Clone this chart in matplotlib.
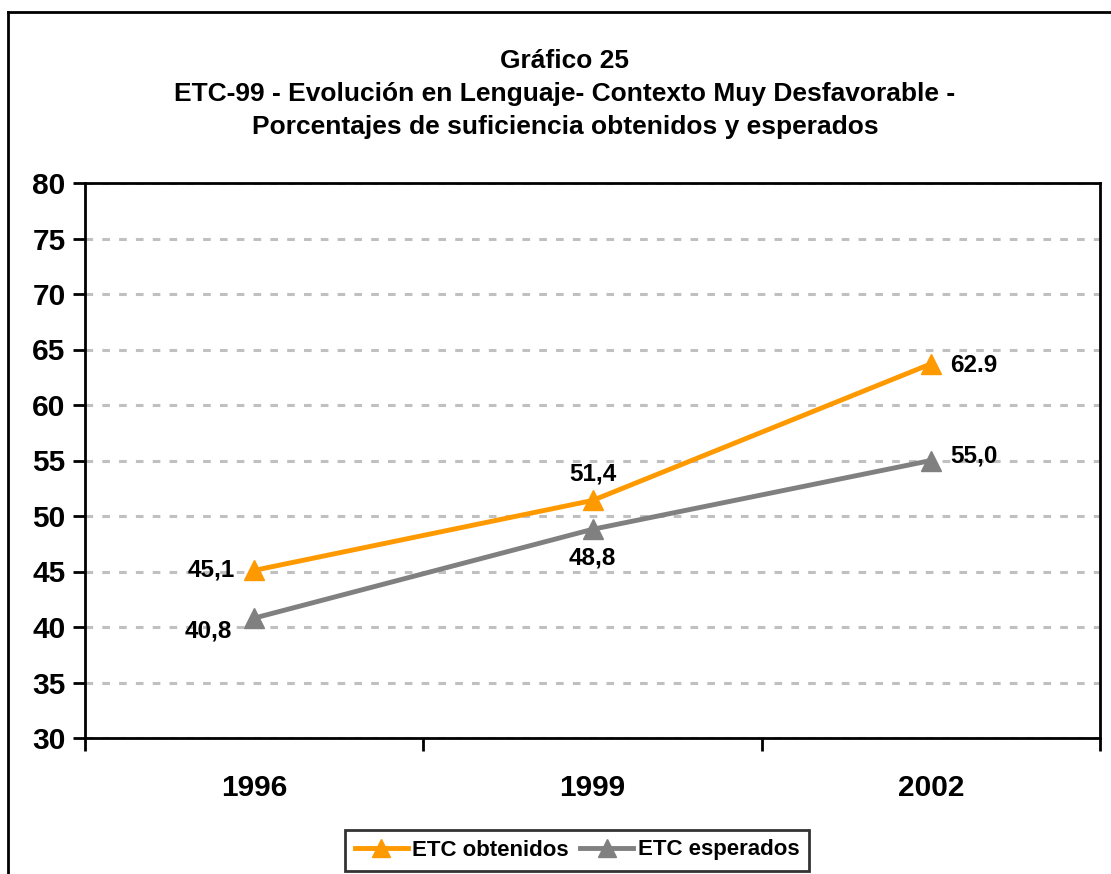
import matplotlib
matplotlib.use('Agg')
import matplotlib.pyplot as plt
from matplotlib.lines import Line2D

plt.rcParams['font.family'] = ['Liberation Sans', 'DejaVu Sans']

years = ['1996', '1999', '2002']
obtenidos = [45.1, 51.4, 63.7]
esperados = [40.8, 48.8, 55.0]
obtenidos_labels = ['45,1', '51,4', '62.9']
esperados_labels = ['40,8', '48,8', '55,0']

ORANGE = '#FF9900'; GRAY = '#808080'
TITLE = 'Gráfico 25\nETC-99 - Evolución en Lenguaje- Contexto Muy Desfavorable -\nPorcentajes de suficiencia obtenidos y esperados'

fig = plt.figure(figsize=(11.11, 8.74), dpi=100)
ax = fig.add_axes([85/1111, 1 - 738/874, (1100 - 85)/1111, (738 - 183)/874])

x = list(range(len(years)))
ax.plot(x, obtenidos, color=ORANGE, lw=3.5, marker='^', ms=15, label='ETC obtenidos', zorder=3)
ax.plot(x, esperados, color=GRAY, lw=3.5, marker='^', ms=15, label='ETC esperados', zorder=3)

ax.set_xlim(-0.5, 2.5)
ax.set_ylim(30, 80)
ax.set_yticks(range(30, 81, 5))
ax.set_xticks(x)
ax.set_xticklabels(years)
ax.set_xticks([-0.5, 0.5, 1.5, 2.5], minor=True)
ax.tick_params(axis='x', which='major', length=0, pad=26, labelsize=21.5)
ax.tick_params(axis='x', which='minor', length=9, width=2, direction='out')
ax.tick_params(axis='y', length=9, width=2, direction='out', labelsize=21.5, pad=5)
for lab in ax.get_xticklabels() + ax.get_yticklabels():
    lab.set_fontweight('bold')
for sp in ax.spines.values():
    sp.set_linewidth(2)
ax.grid(axis='y', color='#C0C0C0', linestyle=(0, (2.5, 3)), lw=2.2)
ax.set_axisbelow(True)

lab_kw = dict(textcoords='offset points', fontsize=17.5, fontweight='bold')
# obtenidos labels
ax.annotate(obtenidos_labels[0], (0, obtenidos[0]), xytext=(-14, 0), ha='right', va='center', **lab_kw)
ax.annotate(obtenidos_labels[1], (1, obtenidos[1]), xytext=(0, 19), ha='center', va='center', **lab_kw)
ax.annotate(obtenidos_labels[2], (2, obtenidos[2]), xytext=(14, -1), ha='left', va='center', **lab_kw)
# esperados labels
ax.annotate(esperados_labels[0], (0, esperados[0]), xytext=(-16, -9), ha='right', va='center', **lab_kw)
ax.annotate(esperados_labels[1], (1, esperados[1]), xytext=(0, -21), ha='center', va='center', **lab_kw)
ax.annotate(esperados_labels[2], (2, esperados[2]), xytext=(14, 3), ha='left', va='center', **lab_kw)

fig.text(565/1111, 1 - 94/874, TITLE, ha='center', va='center', fontsize=19,
         fontweight='bold', linespacing=1.45)

leg = fig.legend(loc='center', bbox_to_anchor=(577/1111, 1 - 850/874), ncol=2,
                 prop={'size': 16, 'weight': 'bold'}, frameon=True, fancybox=False,
                 edgecolor='black', handlelength=2.4, handletextpad=0.2,
                 columnspacing=0.5, borderpad=0.45, borderaxespad=0, markerscale=0.9)
leg.get_frame().set_linewidth(2)

# outer chart frame
fig.add_artist(Line2D([8/1111, 8/1111], [0, 1 - 12/874], transform=fig.transFigure, color='black', lw=2))
fig.add_artist(Line2D([8/1111, 1], [1 - 12/874, 1 - 12/874], transform=fig.transFigure, color='black', lw=2))

fig.savefig('out.png', dpi=100)
